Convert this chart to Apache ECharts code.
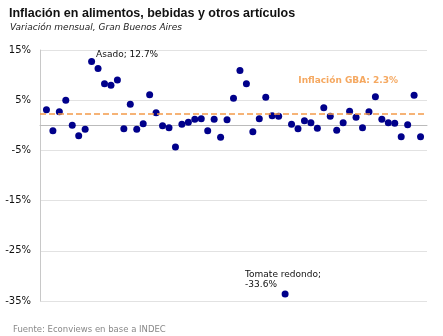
<!DOCTYPE html>
<html>
<head>
<meta charset="utf-8">
<script src="https://cdn.jsdelivr.net/npm/echarts@6/dist/echarts.min.js"></script>
<style>
  html, body { margin: 0; padding: 0; background: #fff; }
  #chart { width: 443px; height: 336px; }
</style>
</head>
<body>
<div id="chart"></div>
<script>
// Monthly price change (%) of each item in the basket, Gran Buenos Aires
const variaciones = [3.1, -1.1, 2.7, 5.0, 0.0, -2.1, -0.8, 12.7, 11.3, 8.3, 8.0, 9.0, -0.7, 4.2, -0.8,
  0.3, 6.1, 2.5, -0.1, -0.5, -4.3, 0.2, 0.6, 1.2, 1.3, -1.1, 1.2, -2.4, 1.1, 5.4, 10.9, 8.3, -1.3,
  1.3, 5.6, 1.9, 1.8, -33.6, 0.2, -0.7, 0.9, 0.5, -0.6, 3.5, 1.8, -1.0, 0.5, 2.8, 1.6, -0.5, 2.7,
  5.7, 1.2, 0.5, 0.4, -2.3, 0.1, 6.0, -2.3];
const yTicks = [-35, -25, -15, -5, 5, 15];
const inflacionGBA = 2.3;
// Highlighted items: [position in series, name]
const destacados = [[8, 'Asado'], [38, 'Tomate redondo']];

const fmt = v => (Math.round(v * 10) / 10).toFixed(1);

const puntos = variaciones.map((v, i) => {
  const pos = i + 1;
  const d = destacados.find(x => x[0] === pos);
  const item = { value: [pos, v] };
  if (d && v > 0) {
    item.label = {
      show: true, position: 'right', distance: 1, offset: [0, -7],
      formatter: d[1] + '; ' + fmt(v) + '%',
      fontFamily: 'DejaVu Sans', fontSize: 9, color: '#111'
    };
  } else if (d) {
    item.label = {
      show: true, position: 'top', distance: 1, align: 'left', offset: [-40, 0],
      formatter: d[1] + ';\n' + fmt(v) + '%', lineHeight: 10,
      fontFamily: 'DejaVu Sans', fontSize: 9, color: '#111'
    };
  }
  return item;
});

const chart = echarts.init(document.getElementById('chart'), null, { renderer: 'canvas' });
chart.setOption({
  animation: false,
  backgroundColor: '#fff',
  title: [
    { text: 'Inflación en alimentos, bebidas y otros artículos', left: 4, top: 2,
      textStyle: { fontFamily: 'Liberation Sans', fontWeight: 'bold', fontSize: 12.5, color: '#111' } },
    { text: 'Variación mensual, Gran Buenos Aires', left: 5, top: 18,
      textStyle: { fontFamily: 'DejaVu Sans', fontStyle: 'italic', fontWeight: 'normal', fontSize: 9, color: '#222' } },
    { text: 'Fuente: Econviews en base a INDEC', left: 8, top: 320,
      textStyle: { fontFamily: 'DejaVu Sans', fontWeight: 'normal', fontSize: 8.5, color: '#888' } }
  ],
  grid: { left: 40, right: 16, top: 50, bottom: 35, containLabel: false },
  xAxis: {
    type: 'value', min: 0, max: 60,
    axisLine: { show: true, onZero: true, lineStyle: { color: '#bbb', width: 1 } },
    axisTick: { show: false }, axisLabel: { show: false }, splitLine: { show: false }
  },
  yAxis: {
    type: 'value', min: yTicks[0], max: yTicks[yTicks.length - 1], interval: 10,
    axisLine: { show: true, lineStyle: { color: '#c8c8c8', width: 1 } },
    axisTick: { show: false },
    axisLabel: { formatter: '{value}%', margin: 9, fontFamily: 'DejaVu Sans', fontSize: 10, color: '#111' },
    splitLine: { show: true, lineStyle: { color: '#e2e2e2', width: 1 } }
  },
  series: [{
    type: 'scatter',
    data: puntos,
    symbolSize: 7,
    itemStyle: { color: '#00008b', opacity: 1 },
    markLine: {
      silent: true, symbol: 'none',
      lineStyle: { color: '#f39a4a', type: [6, 3], width: 1.5 },
      label: {
        show: true, position: 'insideEndTop', distance: 29,
        formatter: 'Inflación GBA: ' + fmt(inflacionGBA) + '%',
        fontFamily: 'DejaVu Sans', fontSize: 9, fontWeight: 'bold', color: '#f5a860'
      },
      data: [{ yAxis: inflacionGBA }]
    }
  }]
});
</script>
</body>
</html>
